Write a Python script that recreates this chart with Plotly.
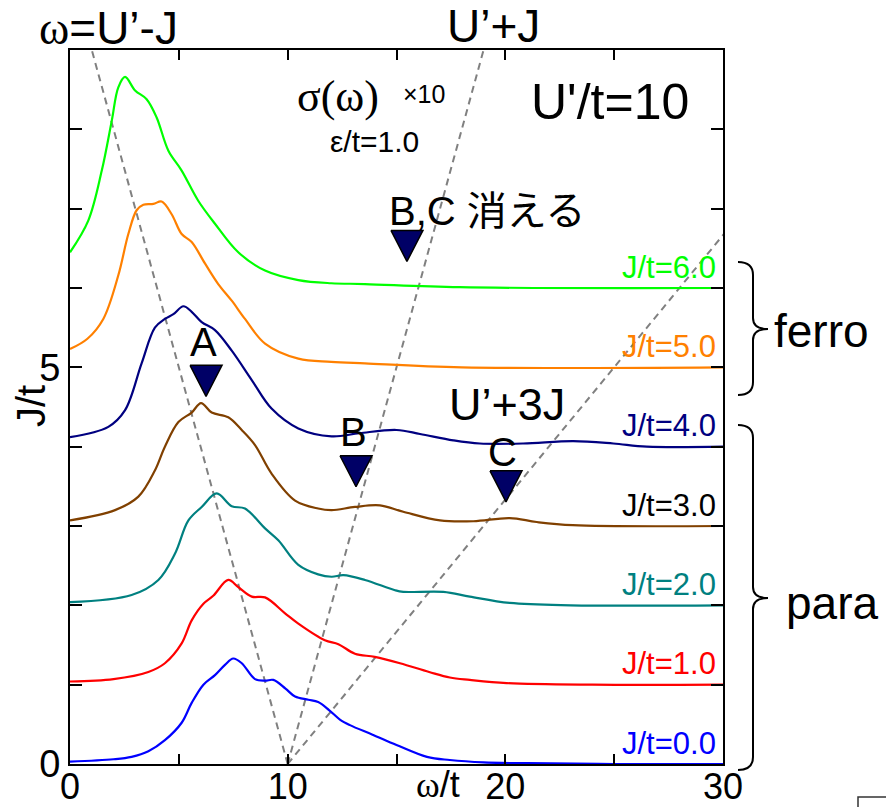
import plotly.graph_objects as go

# ---------------------------------------------------------------
# Optical conductivity sigma(omega) (x10), U'/t = 10, eps/t = 1.0
# Each spectrum is shifted vertically by its own J/t value.
# ---------------------------------------------------------------
U_PRIME = 10.0
J_VALUES = [0.0, 1.0, 2.0, 3.0, 4.0, 5.0, 6.0]
LINE_COLORS = ["#0000FF", "#FF0000", "#008080", "#804000", "#000080", "#FF8000", "#00FF00"]
LABEL_COLORS = ["#0000FF", "#FF0000", "#008080", "#000000", "#000080", "#FF8000", "#00FF00"]
CURVE_LABELS = ["J/t=0.0", "J/t=1.0", "J/t=2.0", "J/t=3.0", "J/t=4.0", "J/t=5.0", "J/t=6.0"]

omega_j0 = [0, 2.0, 2.83, 3.6, 4.36, 5.13, 5.59, 6.13, 6.66, 7.12, 7.5, 7.89, 8.5, 8.96, 9.34,
            9.9, 10.34, 10.95, 11.4, 11.9, 12.4, 12.86, 13.9, 15.0, 16.4, 17.45, 19.0, 21.0, 25.0, 30.0]
sigma_j0 = [0.03, 0.06, 0.09, 0.16, 0.30, 0.52, 0.77, 1.00, 1.12, 1.25, 1.33, 1.27, 1.07, 1.05, 1.06,
            0.95, 0.85, 0.81, 0.78, 0.68, 0.56, 0.49, 0.37, 0.24, 0.09, 0.05, 0.02, 0.01, 0.0, 0.0]

omega_j1 = [0, 2.0, 3.6, 4.36, 5.13, 5.59, 6.13, 6.58, 7.27, 7.73, 8.35, 8.96, 9.88, 10.49, 11.71,
            12.33, 13.09, 14.0, 15.16, 16.5, 17.45, 18.37, 20.06, 24.0, 30.0]
sigma_j1 = [0.04, 0.07, 0.16, 0.27, 0.52, 0.81, 1.02, 1.12, 1.32, 1.23, 1.11, 1.10, 0.90, 0.77, 0.56,
            0.51, 0.39, 0.35, 0.27, 0.16, 0.09, 0.06, 0.02, 0.0, 0.0]

omega_j2 = [0, 2.83, 4.06, 4.82, 5.44, 6.05, 6.74, 7.43, 8.04, 8.96, 9.57, 10.49, 11.4, 12.02, 12.56,
            13.55, 14.93, 15.31, 17.15, 18.37, 20.2, 23.0, 30.0]
sigma_j2 = [0.04, 0.13, 0.32, 0.65, 1.07, 1.24, 1.41, 1.25, 1.22, 0.97, 0.82, 0.51, 0.39, 0.36, 0.38,
            0.32, 0.19, 0.17, 0.17, 0.11, 0.03, 0.0, 0.0]

omega_j3 = [0, 2.07, 3.14, 3.9, 4.36, 4.98, 5.59, 6.02, 6.51, 7.27, 7.89, 8.5, 9.26, 10.34, 11.4,
            12.02, 13.09, 14.24, 15.31, 17.0, 18.53, 20.2, 21.44, 23.1, 30.0]
sigma_j3 = [0.07, 0.20, 0.37, 0.70, 1.00, 1.31, 1.43, 1.55, 1.43, 1.37, 1.21, 1.02, 0.66, 0.32, 0.22,
            0.20, 0.24, 0.26, 0.18, 0.07, 0.06, 0.10, 0.05, 0.01, 0.0]

omega_j4 = [0, 1.76, 2.53, 3.29, 3.9, 4.36, 4.75, 5.21, 5.59, 6.05, 6.66, 7.43, 8.35, 9.26, 10.49,
            12.02, 13.3, 15.0, 16.08, 17.61, 18.83, 20.82, 23.12, 24.96, 26.5, 30.0]
sigma_j4 = [0.12, 0.25, 0.46, 1.05, 1.50, 1.61, 1.67, 1.77, 1.70, 1.57, 1.47, 1.21, 0.84, 0.48, 0.23,
            0.13, 0.17, 0.21, 0.16, 0.08, 0.04, 0.04, 0.07, 0.04, 0.0, 0.0]

omega_j5 = [0, 0.8, 1.53, 2.22, 2.68, 3.06, 3.37, 3.83, 4.21, 4.67, 5.13, 5.59, 6.2, 6.81, 7.43,
            8.04, 8.96, 10.49, 12.0, 13.55, 18.0, 30.0]
sigma_j5 = [0.23, 0.36, 0.61, 1.16, 1.68, 1.98, 2.05, 2.06, 2.09, 1.93, 1.68, 1.58, 1.31, 1.05, 0.84,
            0.61, 0.30, 0.11, 0.07, 0.05, 0.0, 0.0]

omega_j6 = [0, 0.84, 1.46, 1.92, 2.22, 2.53, 2.99, 3.52, 3.98, 4.52, 5.13, 5.89, 6.66, 7.73, 8.96,
            10.49, 12.0, 13.55, 17.9, 30.0]
sigma_j6 = [0.45, 0.85, 1.48, 2.11, 2.53, 2.66, 2.49, 2.38, 2.15, 1.73, 1.48, 1.10, 0.81, 0.45, 0.22,
            0.10, 0.06, 0.05, 0.01, 0.0]

OMEGAS = [omega_j0, omega_j1, omega_j2, omega_j3, omega_j4, omega_j5, omega_j6]
SIGMAS = [sigma_j0, sigma_j1, sigma_j2, sigma_j3, sigma_j4, sigma_j5, sigma_j6]

# Excitation markers (triangles) and their letters
mark_omega = [6.25, 13.14, 20.03, 15.48]
mark_J = [4.83, 3.69, 3.50, 6.53]
mark_text = ["A", "B", "C", ""]
mark_text_lift = [39, 39, 34, 0]

# Reference lines omega = U' - J, U' + J, U' + 3J
LINE_J = [0.0, 9.0]
LINE_FACTORS = [-1.0, 1.0, 3.0]

X_RANGE = [0, 30]
Y_RANGE = [0, 9]
W, H = 886, 807
ML, MR, MT, MB = 70, 163, 50, 43
PLOT_W = W - ML - MR
PLOT_H = H - MT - MB

SANS = "Liberation Sans, Arial, Noto Sans CJK JP, sans-serif"
SERIF = "Liberation Serif, Times New Roman, serif"


def paper(px, py):
    """Convert page pixel position to paper coordinates."""
    return (px - ML) / PLOT_W, (H - MB - py) / PLOT_H


fig = go.Figure()

# reference dashed lines
for f in LINE_FACTORS:
    fig.add_trace(go.Scatter(
        x=[U_PRIME + f * j for j in LINE_J], y=LINE_J, mode="lines",
        line=dict(color="#808080", width=2, dash="7px,5px"),
        hoverinfo="skip", showlegend=False))

# shifted spectra
for J, om, sg, col in zip(J_VALUES, OMEGAS, SIGMAS, LINE_COLORS):
    fig.add_trace(go.Scatter(
        x=om, y=[J + s for s in sg], mode="lines",
        line=dict(color=col, width=2.2, shape="spline", smoothing=1.0),
        showlegend=False))

# triangle markers drawn as filled polygons (pointing down)
sx = (X_RANGE[1] - X_RANGE[0]) / PLOT_W
sy = (Y_RANGE[1] - Y_RANGE[0]) / PLOT_H
half_w, half_h = 16 * sx, 15.5 * sy
for w, j in zip(mark_omega, mark_J):
    fig.add_trace(go.Scatter(
        x=[w - half_w, w + half_w, w, w - half_w],
        y=[j + half_h, j + half_h, j - half_h, j + half_h],
        mode="lines", fill="toself", fillcolor="#000066",
        line=dict(color="#000000", width=1.5), showlegend=False, hoverinfo="skip"))

annotations = []

# letters above the triangles
for w, j, t, lift in zip(mark_omega, mark_J, mark_text, mark_text_lift):
    if t:
        annotations.append(dict(x=w, y=j, xref="x", yref="y", text=t, showarrow=False,
                                yshift=lift, xshift=-3, font=dict(family=SANS, size=40, color="black")))

# curve labels at the right end
for J, lab, col in zip(J_VALUES, CURVE_LABELS, LABEL_COLORS):
    annotations.append(dict(x=X_RANGE[1], y=J, xref="x", yref="y", text=lab, showarrow=False,
                            xanchor="right", yanchor="middle", xshift=-5, yshift=21,
                            font=dict(family=SANS, size=31, color=col)))


def text_at(px, py, text, size, family=SANS, xanchor="center", angle=0):
    x, y = paper(px, py)
    annotations.append(dict(x=x, y=y, xref="paper", yref="paper", text=text, showarrow=False,
                            xanchor=xanchor, yanchor="middle", textangle=angle,
                            font=dict(family=family, size=size, color="black")))


serif_omega = "<span style='font-family:Liberation Serif'>ω</span>"
text_at(108, 28, serif_omega + "=U’-J", 46)
text_at(493, 26, "U’+J", 46)
text_at(338, 96, "σ(ω)", 44, family=SERIF)
text_at(424, 94, "×10", 25)
text_at(374, 141, "ε/t=1.0", 30)
text_at(610, 102, "U'/t=10", 50)
text_at(487, 211, "B,C 消える", 40)
text_at(507, 404, "U’+3J", 45)
text_at(772, 331, "ferro", 46, xanchor="left")
text_at(784, 603, "para", 46, xanchor="left")
text_at(438, 785, serif_omega + "/t", 36)
text_at(31, 406, "J/t", 40, angle=-90)


def brace(top, tip, bottom, x0=738, x1=753, x2=768, r=13):
    a = paper(x0, top); b = paper(x1, top); c = paper(x1, top + r)
    d = paper(x1, tip - 11); e = paper(x1, tip); f = paper(x2, tip)
    g = paper(x1, tip + 11); h = paper(x1, bottom - r); i = paper(x1, bottom); k = paper(x0, bottom)
    p = (f"M {a[0]},{a[1]} Q {b[0]},{b[1]} {c[0]},{c[1]} L {d[0]},{d[1]} "
         f"Q {e[0]},{e[1]} {f[0]},{f[1]} Q {e[0]},{e[1]} {g[0]},{g[1]} "
         f"L {h[0]},{h[1]} Q {i[0]},{i[1]} {k[0]},{k[1]}")
    return dict(type="path", path=p, xref="paper", yref="paper",
                line=dict(color="black", width=2))


shapes = [brace(262, 329, 395), brace(425, 598, 770)]
# edge of the neighbouring frame in the lower right corner
c0 = paper(858, 797); c1 = paper(886, 797); c2 = paper(858, 807)
shapes.append(dict(type="path", path=f"M {c2[0]},{c2[1]} L {c0[0]},{c0[1]} L {c1[0]},{c1[1]}",
                   xref="paper", yref="paper", line=dict(color="#333333", width=1.5)))

axis_common = dict(showgrid=False, zeroline=False, showline=True, linecolor="black", linewidth=2,
                   mirror="ticks", ticks="inside", tickcolor="black", tickwidth=2, automargin=False)

fig.update_layout(
    width=W, height=H, margin=dict(l=ML, r=MR, t=MT, b=MB, autoexpand=False),
    paper_bgcolor="white", plot_bgcolor="white",
    xaxis=dict(range=X_RANGE, tickvals=[0, 10, 20, 30], ticklen=10, ticklabelstandoff=-10,
               tickfont=dict(family=SANS, size=36, color="black"),
               minor=dict(tickvals=[5, 15, 25], ticks="inside", ticklen=10, tickwidth=2, tickcolor="black"),
               **axis_common),
    yaxis=dict(range=Y_RANGE, tickvals=[0, 5], ticklen=12,
               tickfont=dict(family=SANS, size=38, color="black"),
               minor=dict(dtick=1, ticks="inside", ticklen=12, tickwidth=2, tickcolor="black"),
               **axis_common),
    annotations=annotations, shapes=shapes, showlegend=False,
)

fig.write_html("out.html")
